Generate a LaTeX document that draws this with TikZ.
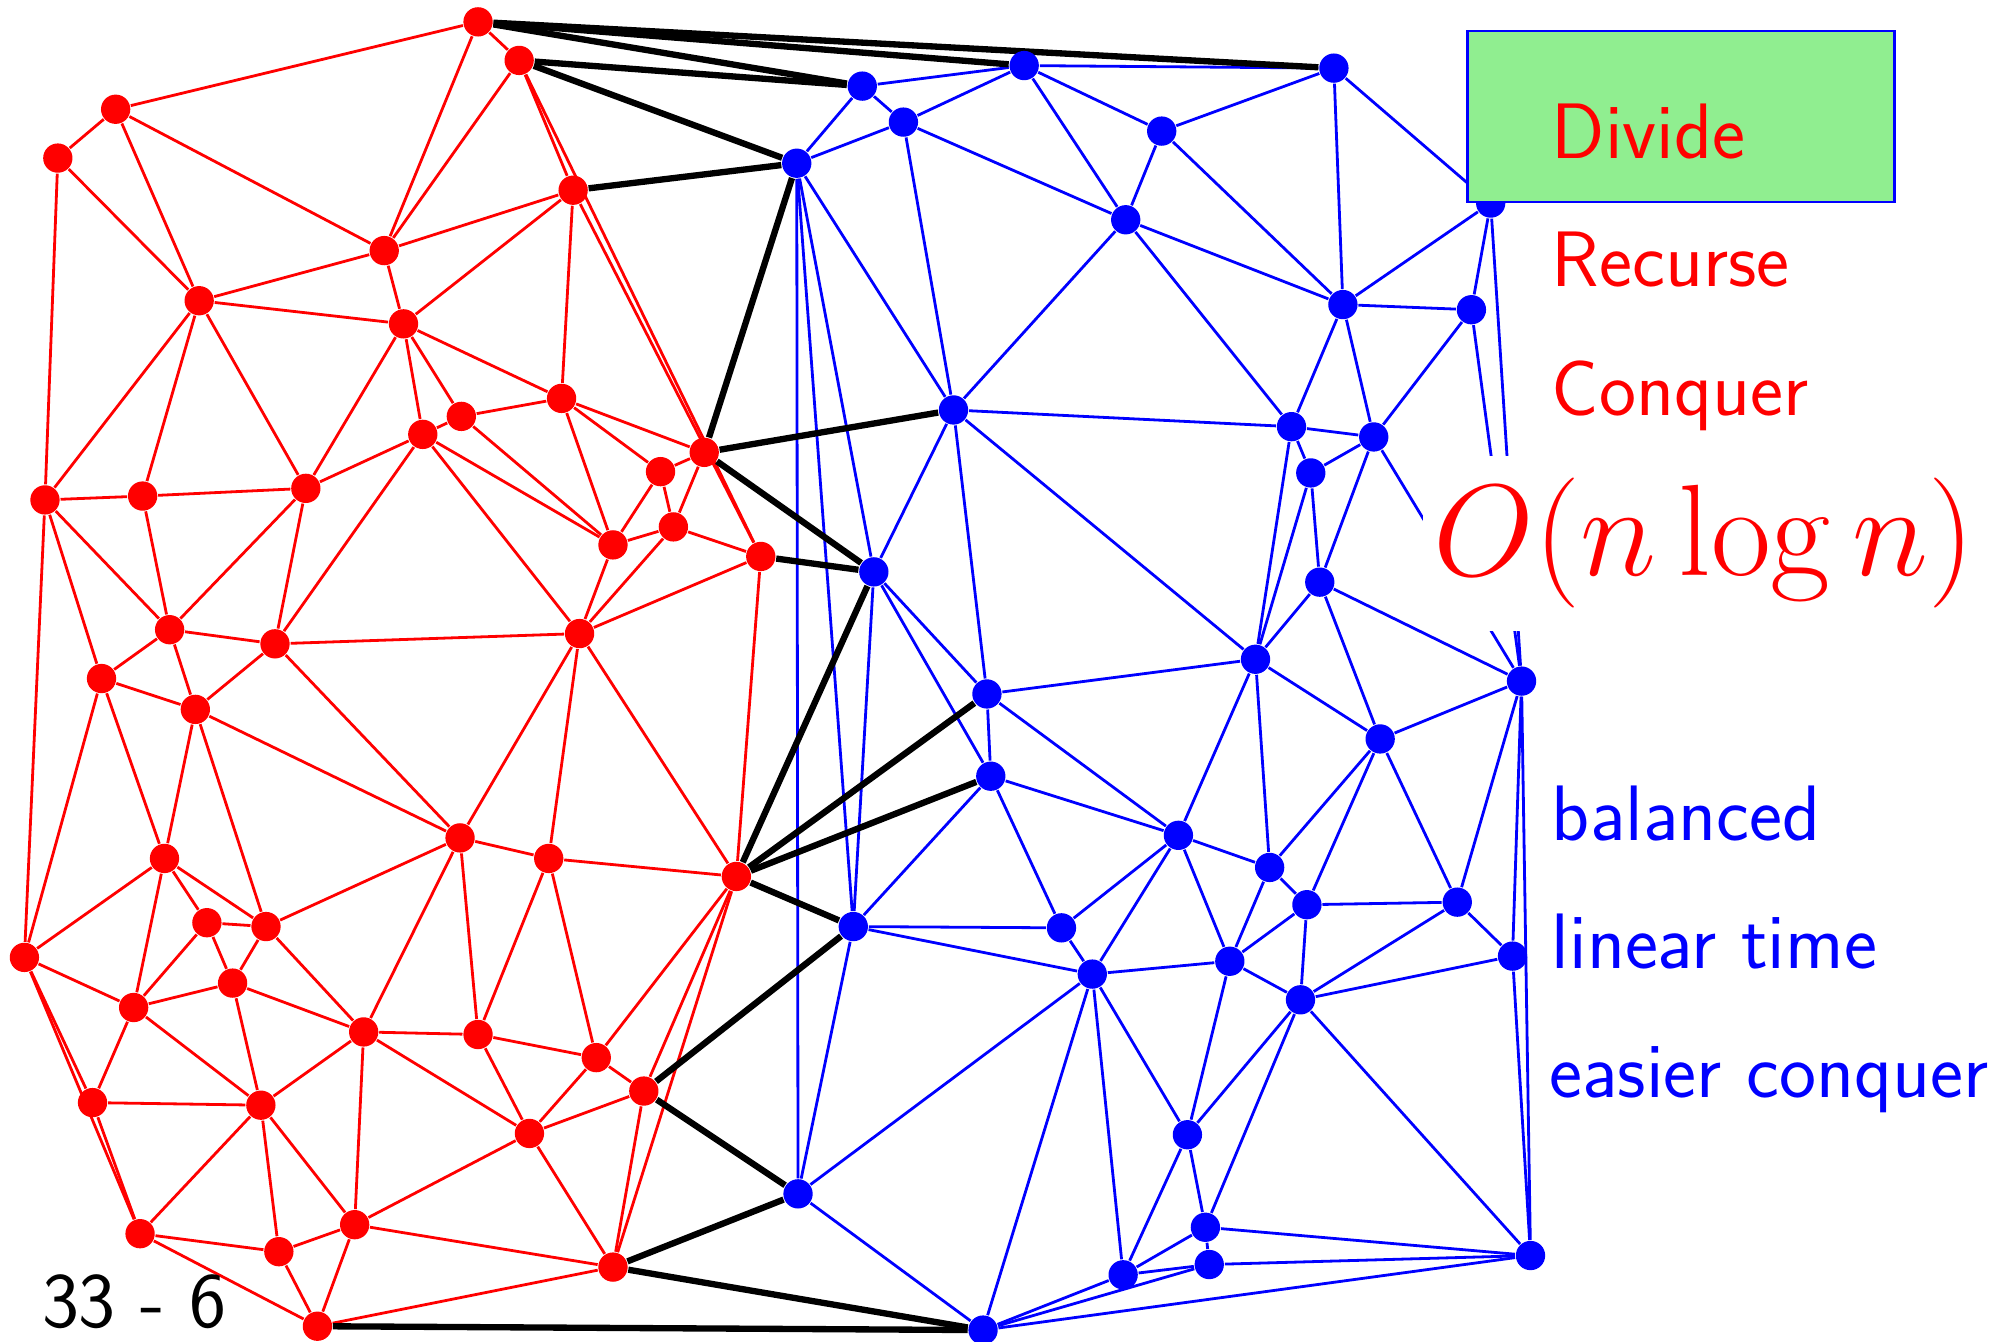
\RequirePackage{fix-cm}
\documentclass[tikz,border=0pt]{standalone}
\usepackage{fontspec}
\usetikzlibrary{backgrounds}
\definecolor{lgreen}{RGB}{144,238,144}
\tikzset{
  rn/.style={circle,fill=red,inner sep=0pt,minimum size=0.228cm},
  bn/.style={circle,fill=blue,inner sep=0pt,minimum size=0.228cm},
  re/.style={draw=red,line width=0.62pt},
  be/.style={draw=blue,line width=0.62pt},
  ke/.style={draw=black,line width=1.4pt},
  lbl/.style={anchor=base west,inner sep=0pt,font=\fontsize{17.4}{21}\selectfont\sffamily},
}
\begin{document}
\begin{tikzpicture}[x=0.01cm,y=-0.01cm]
\useasboundingbox (0,0) rectangle (1568,1044);
% red points
\foreach \n/\x/\y in {r1/372/17,r2/404/47,r3/90/85,r4/45/123,r5/446/148,r6/299/195,r7/155/234,r8/314/252,
 r9/437/310,r10/359/324,r11/329/338,r12/548/352,r13/514/367,r14/35/389,r15/111/386,r16/238/380,
 r17/524/410,r18/477/424,r19/592/433,r20/451/493,r21/132/490,r22/214/501,r23/79/528,r24/152/552,
 r25/358/652,r26/427/668,r27/573/682,r28/128/668,r29/161/718,r30/207/721,r31/19/745,r32/181/765,
 r33/104/784,r34/283/803,r35/372/805,r36/464/823,r37/501/849,r38/72/858,r39/203/860,r40/412/882,
 r41/276/953,r42/109/960,r43/217/974,r44/477/986,r45/247/1032}
  \node[rn] (\n) at (\x,\y) {};
% blue points
\foreach \n/\x/\y in {b1/671/67,b2/797/51,b3/1038/53,b4/703/95,b5/904/102,b6/620/127,b7/876/171,b8/1160/158,
 b9/1045/237,b10/1145/241,b11/742/319,b12/1005/332,b13/1069/340,b14/1020/368,b15/680/445,b16/1027/453,
 b17/977/513,b18/768/540,b19/1184/530,b20/1074/575,b21/771/604,b22/917/650,b23/988/675,b24/664/721,
 b25/826/722,b26/1017/704,b27/1134/702,b28/1177/744,b29/850/758,b30/957/748,b31/1012/778,b32/924/883,
 b33/621/929,b34/938/955,b35/874/992,b36/941/984,b37/1191/977,b38/765/1035}
  \node[bn] (\n) at (\x,\y) {};
\begin{pgfonlayer}{background}
\foreach \a/\b in {r1/r2,r1/r3,r1/r6,r2/r6,r2/r5,r2/r19,r5/r19,r3/r4,r3/r7,r3/r6,r4/r14,r4/r7,
 r6/r7,r6/r5,r6/r8,r5/r8,r5/r9,r7/r8,r7/r14,r7/r15,r7/r16,r8/r16,r8/r11,r8/r10,r8/r9,
 r9/r10,r9/r18,r9/r13,r9/r12,r10/r11,r10/r18,r11/r16,r11/r22,r11/r20,r11/r18,r12/r13,r12/r17,
 r13/r17,r13/r18,r14/r15,r14/r21,r14/r23,r14/r31,r15/r16,r15/r21,r16/r21,r16/r22,
 r17/r18,r17/r20,r17/r19,r18/r20,r19/r20,r19/r27,r20/r22,r20/r25,r20/r26,r20/r27,
 r21/r22,r21/r23,r21/r24,r22/r24,r22/r25,r23/r24,r23/r28,r23/r31,r24/r25,r24/r28,r24/r30,
 r25/r26,r25/r34,r25/r35,r25/r30,r26/r27,r26/r35,r26/r36,r27/r36,r27/r37,r27/r44,
 r28/r31,r28/r33,r28/r29,r28/r30,r29/r30,r29/r32,r29/r33,r30/r32,r30/r34,
 r31/r33,r31/r38,r31/r42,r32/r33,r32/r34,r32/r39,r33/r38,r33/r39,
 r34/r35,r34/r39,r34/r41,r34/r40,r35/r40,r35/r36,r36/r37,r36/r40,r37/r40,r37/r44,
 r38/r39,r38/r42,r39/r42,r39/r43,r39/r41,r40/r41,r40/r44,r41/r43,r41/r44,r41/r45,
 r42/r43,r42/r45,r43/r45,r44/r45}
  \draw[re] (\a) -- (\b);
\foreach \a/\b in {b1/b2,b1/b4,b1/b6,b4/b6,b2/b4,b2/b3,b2/b5,b2/b7,b4/b7,b4/b11,b3/b5,b3/b9,b3/b8,
 b5/b7,b5/b9,b6/b11,b6/b33,b6/b24,b6/b15,b7/b9,b7/b11,b7/b12,b8/b9,b8/b10,b8/b19,
 b9/b10,b9/b12,b9/b13,b10/b13,b10/b19,b11/b12,b11/b15,b11/b18,b11/b17,
 b12/b13,b12/b14,b12/b17,b13/b14,b13/b16,b13/b19,b14/b16,b14/b17,
 b15/b18,b15/b21,b15/b24,b16/b17,b16/b19,b16/b20,b17/b18,b17/b20,b17/b22,b17/b23,
 b18/b21,b18/b22,b19/b20,b19/b27,b19/b28,b19/b37,b20/b23,b20/b26,b20/b27,
 b21/b22,b21/b24,b21/b25,b22/b23,b22/b25,b22/b29,b22/b30,b23/b26,b23/b30,
 b24/b25,b24/b29,b24/b33,b25/b29,b26/b27,b26/b30,b26/b31,b27/b28,b27/b31,
 b28/b31,b28/b37,b29/b30,b29/b32,b29/b33,b29/b35,b29/b38,b30/b31,b30/b32,
 b31/b32,b31/b34,b31/b37,b32/b34,b32/b35,b33/b38,b34/b35,b34/b36,b34/b37,
 b35/b36,b35/b38,b36/b37,b36/b38,b37/b38}
  \draw[be] (\a) -- (\b);
\foreach \a/\b in {r1/b3,r1/b2,r1/b1,r2/b1,r2/b6,r5/b6,r12/b6,r12/b11,r12/b15,r19/b15,
 r27/b15,r27/b18,r27/b21,r27/b24,r37/b24,r37/b33,r44/b33,r44/b38,r45/b38}
  \draw[ke] (\a) -- (\b);
\end{pgfonlayer}
% box and labels
\node[draw=blue,fill=lgreen,line width=0.6pt,anchor=north west,minimum width=3.32cm,minimum height=1.33cm,inner sep=0pt] (box) at (1141,23) {};
\node[lbl,text=red] (divide) at (1207,123) {Divide};
\node[lbl,text=red] (recurse) at (1207,223) {Recurse};
\node[lbl,text=red] (conquer) at (1207,323) {Conquer};
\node[anchor=base west,fill=white,inner xsep=2.3pt,inner ysep=5pt,text=red,font=\fontsize{28.8}{33}\selectfont] (cost) at (1107,448) {$O(n\log n)$};
\node[lbl,text=blue] (bal) at (1207,654) {balanced};
\node[lbl,text=blue] (lin) at (1207,754) {linear time};
\node[lbl,text=blue] (eas) at (1205,854) {easier conquer};
\node[lbl,text=black] (pg) at (32,1033) {33 - 6};
\end{tikzpicture}
\end{document}
